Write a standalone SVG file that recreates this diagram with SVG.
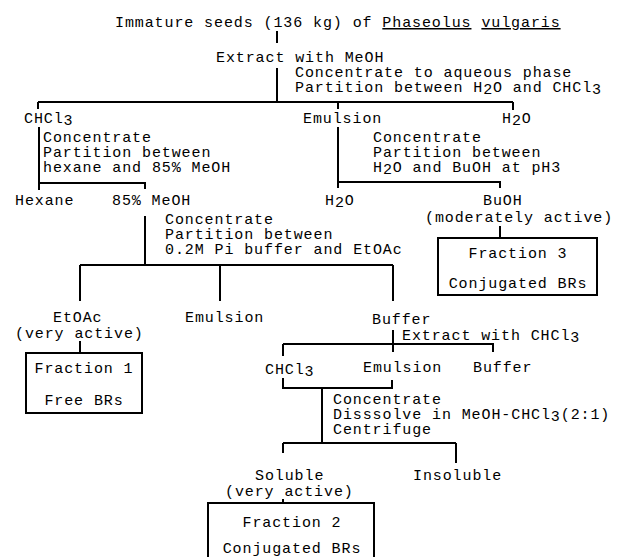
<svg xmlns="http://www.w3.org/2000/svg" width="619" height="557" viewBox="0 0 619 557">
<style>
text{font-family:"Liberation Mono","DejaVu Sans Mono",monospace;font-size:15px;letter-spacing:0.9px;fill:#000}
.m{text-anchor:middle}
.u{text-decoration:underline}
.c{stroke:#000;stroke-width:2;fill:none}
.b{stroke:#000;stroke-width:2;fill:none}
</style>
<rect width="619" height="557" fill="#fff"/>
<g id="connectors" class="c">
<path d="M277 31V43M277 68V102M38 102H513M38 102V109M338 102V109M513 102V110"/>
<path d="M39 127V183H145V189M39 183V190"/>
<path d="M145 216V265M80 265H393M80 265V301M220 265V301M393 265V301"/>
<path d="M80 341V353"/>
<path d="M338 127V182H500V188M338 182V188M500 226V238"/>
<path d="M393 330V352M283 344H493V352M283 344V356M283 378V388H392V380"/>
<path d="M322 388V443M283 443H456M283 443V453M456 443V463M283 499V503"/>
</g>
<g id="seeds">
<text x="115" y="27">Immature seeds (136 kg) of <tspan class="u">Phaseolus</tspan> <tspan class="u">vulgaris</tspan></text>
</g>
<g id="step1">
<text x="216" y="62">Extract with MeOH</text>
<text x="295" y="77">Concentrate to aqueous phase</text>
<text x="295" y="92">Partition between H<tspan dy="2">2</tspan><tspan dy="-2">O and CHCl</tspan><tspan dy="2">3</tspan></text>
</g>
<g id="chcl3-1"><text x="24" y="123">CHCl<tspan dy="2">3</tspan></text></g>
<g id="emulsion-1"><text x="303" y="123">Emulsion</text></g>
<g id="h2o-1"><text x="502" y="123">H<tspan dy="2">2</tspan><tspan dy="-2">O</tspan></text></g>
<g id="step2">
<text x="43" y="142">Concentrate</text>
<text x="43" y="157">Partition between</text>
<text x="43" y="172">hexane and 85% MeOH</text>
</g>
<g id="step3">
<text x="373" y="142">Concentrate</text>
<text x="373" y="157">Partition between</text>
<text x="373" y="172">H<tspan dy="2">2</tspan><tspan dy="-2">O and BuOH at pH3</tspan></text>
</g>
<g id="hexane"><text x="15" y="205">Hexane</text></g>
<g id="meoh85"><text x="112" y="205">85% MeOH</text></g>
<g id="h2o-2"><text x="325" y="205">H<tspan dy="2">2</tspan><tspan dy="-2">O</tspan></text></g>
<g id="buoh">
<text x="483" y="205">BuOH</text>
<text x="425" y="222">(moderately active)</text>
</g>
<g id="step4">
<text x="165" y="224">Concentrate</text>
<text x="165" y="239">Partition between</text>
<text x="165" y="254">0.2M Pi buffer and EtOAc</text>
</g>
<g id="fraction3">
<rect class="b" x="438" y="238" width="159" height="57"/>
<text class="m" x="518" y="258">Fraction 3</text>
<text class="m" x="518" y="288">Conjugated BRs</text>
</g>
<g id="etoac">
<text x="53" y="322">EtOAc</text>
<text x="15" y="338">(very active)</text>
</g>
<g id="emulsion-2"><text x="185" y="322">Emulsion</text></g>
<g id="buffer-1"><text x="372" y="324">Buffer</text></g>
<g id="step5"><text x="402" y="340">Extract with CHCl<tspan dy="2">3</tspan></text></g>
<g id="fraction1">
<rect class="b" x="26" y="353" width="116" height="60"/>
<text class="m" x="84" y="373">Fraction 1</text>
<text class="m" x="84" y="405">Free BRs</text>
</g>
<g id="chcl3-2"><text x="265" y="374">CHCl<tspan dy="2">3</tspan></text></g>
<g id="emulsion-3"><text x="363" y="372">Emulsion</text></g>
<g id="buffer-2"><text x="473" y="372">Buffer</text></g>
<g id="step6">
<text x="333" y="404">Concentrate</text>
<text x="333" y="419">Disssolve in MeOH-CHCl<tspan dy="2">3</tspan><tspan dy="-2">(2:1)</tspan></text>
<text x="333" y="434">Centrifuge</text>
</g>
<g id="soluble">
<text x="255" y="480">Soluble</text>
<text x="225" y="496">(very active)</text>
</g>
<g id="insoluble"><text x="413" y="480">Insoluble</text></g>
<g id="fraction2">
<rect class="b" x="208" y="503" width="166" height="70"/>
<text class="m" x="292" y="527">Fraction 2</text>
<text class="m" x="292" y="553">Conjugated BRs</text>
</g>
</svg>
